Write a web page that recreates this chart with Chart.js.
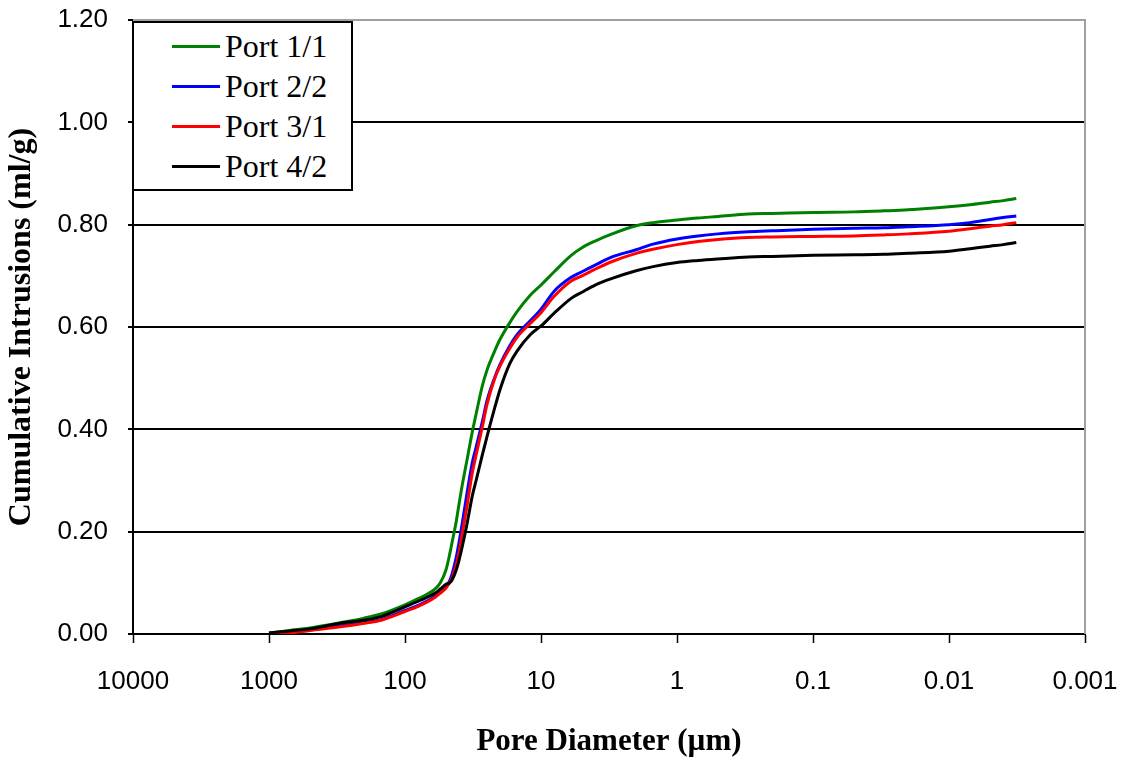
<!DOCTYPE html>
<html>
<head>
<meta charset="utf-8">
<script src="https://cdn.jsdelivr.net/npm/chart.js@4.4.1/dist/chart.umd.min.js"></script>
<style>
	html, body { margin: 0; padding: 0; background: #fff; }
	#wrap { position: relative; width: 1125px; height: 759px; }
	#legend {
		position: absolute; left: 132px; top: 21px; width: 217px; height: 163px;
		border: 2px solid #000; background: #fff; padding-top: 3px; box-sizing: content-box;
	}
	.leg-row { height: 40px; display: flex; align-items: center; }
	.leg-line { width: 48px; height: 3px; margin-left: 38px; margin-right: 5px; }
	.leg-text { font: 32px 'Liberation Serif', 'DejaVu Serif', serif; color: #000; line-height: 40px; }
</style>
</head>
<body>
<div id="wrap">
	<canvas id="chart" width="1125" height="759"></canvas>
	<div id="legend"></div>
</div>
<script>
// pore diameters (µm), shared by all series
const diameters = [1000, 700, 500, 300, 200, 150, 100, 80, 60, 55, 50, 47, 45, 42, 40, 38, 35, 32, 30, 27, 25, 22, 20, 17, 15, 12, 10, 8, 6, 5, 4, 3, 2, 1.5, 1, 0.7, 0.5, 0.3, 0.2, 0.1, 0.05, 0.03, 0.02, 0.01, 0.007, 0.005, 0.004, 0.0032];

// cumulative intrusion (ml/g)
const port11 = [0.002, 0.007, 0.012, 0.022, 0.031, 0.039, 0.057, 0.069, 0.088, 0.100, 0.125, 0.155, 0.180, 0.220, 0.255, 0.290, 0.340, 0.395, 0.430, 0.485, 0.515, 0.552, 0.576, 0.608, 0.630, 0.662, 0.682, 0.708, 0.740, 0.755, 0.768, 0.782, 0.798, 0.804, 0.809, 0.813, 0.816, 0.821, 0.822, 0.824, 0.825, 0.827, 0.829, 0.835, 0.839, 0.844, 0.847, 0.851];
const port22 = [0.001, 0.004, 0.009, 0.016, 0.022, 0.028, 0.046, 0.056, 0.074, 0.082, 0.093, 0.104, 0.118, 0.150, 0.180, 0.215, 0.275, 0.335, 0.365, 0.415, 0.455, 0.500, 0.527, 0.563, 0.585, 0.612, 0.635, 0.670, 0.697, 0.708, 0.721, 0.737, 0.751, 0.762, 0.772, 0.778, 0.782, 0.786, 0.788, 0.791, 0.793, 0.794, 0.796, 0.800, 0.804, 0.810, 0.814, 0.817];
const port31 = [0.000, 0.002, 0.007, 0.014, 0.021, 0.027, 0.044, 0.054, 0.072, 0.080, 0.090, 0.100, 0.110, 0.135, 0.160, 0.195, 0.250, 0.315, 0.350, 0.405, 0.448, 0.498, 0.524, 0.558, 0.580, 0.607, 0.628, 0.660, 0.690, 0.700, 0.713, 0.728, 0.744, 0.752, 0.761, 0.767, 0.771, 0.775, 0.776, 0.777, 0.778, 0.780, 0.782, 0.787, 0.792, 0.797, 0.800, 0.804];
const port42 = [0.002, 0.006, 0.010, 0.021, 0.027, 0.034, 0.053, 0.064, 0.080, 0.088, 0.097, 0.100, 0.106, 0.125, 0.145, 0.170, 0.215, 0.270, 0.300, 0.350, 0.385, 0.440, 0.478, 0.528, 0.553, 0.585, 0.602, 0.627, 0.656, 0.668, 0.682, 0.695, 0.710, 0.718, 0.726, 0.730, 0.733, 0.737, 0.738, 0.740, 0.741, 0.742, 0.744, 0.748, 0.753, 0.758, 0.761, 0.765];

const seriesNames = ['Port 1/1', 'Port 2/2', 'Port 3/1', 'Port 4/2'];
const seriesValues = [port11, port22, port31, port42];
const seriesColors = ['#008000', '#0000ff', '#ff0000', '#000000'];

const xTicks = [0.001, 0.01, 0.1, 1, 10, 100, 1000, 10000];
const xTickLabels = ['0.001', '0.01', '0.1', '1', '10', '100', '1000', '10000'];

const tickFont = { family: "'Liberation Sans', Arial, sans-serif", size: 26 };
const titleFont = { family: "'Liberation Serif', 'Times New Roman', serif", weight: 'bold' };

// grey frame on top and right of the plot area
const frame = {
	id: 'frame',
	beforeDatasetsDraw(chart) {
		const { ctx, chartArea: a } = chart;
		ctx.save();
		ctx.strokeStyle = '#a0a0a0';
		ctx.lineWidth = 2;
		ctx.beginPath();
		ctx.moveTo(a.left, a.top);
		ctx.lineTo(a.right, a.top);
		ctx.lineTo(a.right, a.bottom);
		ctx.stroke();
		ctx.restore();
	},
};

const datasets = seriesNames.map((name, i) => ({
	label: name,
	data: diameters.map((d, j) => ({ x: d, y: seriesValues[i][j] })),
	borderColor: seriesColors[i],
	backgroundColor: seriesColors[i],
	borderWidth: 3,
	pointRadius: 0,
	cubicInterpolationMode: 'monotone',
	fill: false,
	order: seriesNames.length - 1 - i,
}));

new Chart(document.getElementById('chart'), {
	type: 'line',
	data: { datasets },
	plugins: [frame],
	options: {
		responsive: false,
		animation: false,
		layout: { padding: { left: 0, right: 40, top: 20, bottom: 0 } },
		plugins: { legend: { display: false }, tooltip: { enabled: false } },
		scales: {
			x: {
				type: 'logarithmic',
				reverse: true,
				min: 0.001,
				max: 10000,
				afterBuildTicks: (scale) => {
					scale.ticks = xTicks.map((v) => ({ value: v, major: true }));
				},
				afterFit: (scale) => { scale.height = 125; },
				ticks: {
					autoSkip: false,
					maxRotation: 0,
					color: '#000',
					font: tickFont,
					padding: 23,
					callback: (value) => {
						const k = xTicks.findIndex((t) => Math.abs(t - value) / t < 1e-6);
						return k >= 0 ? xTickLabels[k] : '';
					},
				},
				grid: { drawOnChartArea: false, tickLength: 9, tickColor: '#000', tickWidth: 1.5 },
				border: { color: '#000', width: 2 },
				title: {
					display: true,
					text: 'Pore Diameter (µm)',
					color: '#000',
					font: { ...titleFont, size: 31 },
					padding: { top: 0, bottom: -2 },
				},
			},
			y: {
				min: 0,
				max: 1.2,
				afterFit: (scale) => {
					scale.width = 133;
					scale.paddingTop = 0;
					scale.paddingBottom = 0;
				},
				ticks: {
					stepSize: 0.2,
					color: '#000',
					font: tickFont,
					padding: 20,
					callback: (v) => Number(v).toFixed(2),
				},
				grid: {
					color: (c) => (c.tick && Math.abs(c.tick.value - 1.2) < 1e-6 ? '#a0a0a0' : '#000'),
					lineWidth: 2,
					tickLength: 5,
					tickColor: '#000',
				},
				border: { color: '#000', width: 2 },
				title: {
					display: true,
					text: 'Cumulative Intrusions (ml/g)',
					color: '#000',
					font: { ...titleFont, size: 32 },
					padding: { top: 3, bottom: 0 },
				},
			},
		},
	},
});

// legend box drawn inside the plot area
const legendEl = document.getElementById('legend');
seriesNames.forEach((name, i) => {
	const row = document.createElement('div');
	row.className = 'leg-row';
	row.innerHTML = `<div class="leg-line" style="background:${seriesColors[i]}"></div><div class="leg-text"></div>`;
	row.querySelector('.leg-text').textContent = name;
	legendEl.appendChild(row);
});
</script>
</body>
</html>
